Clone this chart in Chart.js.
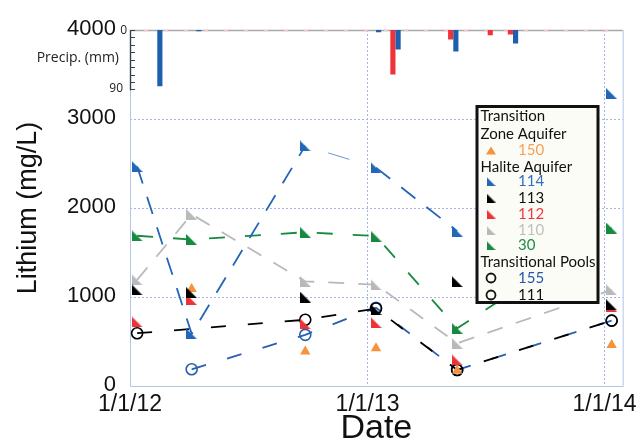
<!DOCTYPE html>
<html>
<head>
<meta charset="utf-8">
<script src="https://cdn.jsdelivr.net/npm/chart.js@4.4.1/dist/chart.umd.min.js"></script>
<style>
  html, body { margin: 0; padding: 0; background: #fff; }
  #wrap { position: relative; width: 642px; height: 446px; }
</style>
</head>
<body>
<div id="wrap"><canvas id="chart" width="642" height="446"></canvas></div>
<script>
// sampling dates (lithium)
const sampleDates = ['2012-01-12', '2012-04-05', '2012-09-27', '2013-01-14', '2013-05-19', '2014-01-12'];
// Transition Zone Aquifer
const li150 = [null, 1090, 387, 425, 170, 461];
// Halite Aquifer
const li114 = [2467, 586, 2698, 2454, 1740, 3285];
const li113 = [1080, 1048, 1000, 860, 1174, 911];
const li112 = [720, 970, 700, 714, 293, 895];
const li110 = [1193, 1928, 1176, 1139, 480, 1080];
const li30  = [1688, 1646, 1728, 1684, 649, 1774];
// Transitional Pools
const li155 = [null, 188, 575, 880, 180, 735];
const li111 = [593, null, 744, 870, 180, 735];

// precipitation (mm)
const precipBlueDates = ['2012-02-16', '2012-04-16', '2013-01-18', '2013-02-17', '2013-05-17', '2013-08-17'];
const precipBlue = [85, 1.5, 3, 29, 32, 20];
const precipRedDates = ['2013-02-09', '2013-05-09', '2013-07-09', '2013-08-09'];
const precipRed = [67, 14, 7.6, 6.5];

const xTickDates = ['2012-01-01', '2013-01-01', '2014-01-01'];
const yTicks = [0, 1000, 2000, 3000, 4000];
const precipLabels = [0, 90];
const precipMinor = [0, 11.25, 22.5, 33.75, 45, 56.25, 67.5, 78.75, 90];

const X = s => Date.parse(s + 'T00:00:00Z');
const pts = vals => sampleDates.map((d, i) => ({ x: X(d), y: vals[i] }));

const C = {
  c150: '#f7923a', c114: '#2166b8', c113: '#000000', c112: '#ee3338',
  c110: '#b7b9bb', c30: '#168a3e', c155: '#2a5fb0', c111: '#000000'
};

// right-angle triangle marker
function triMarker(color, size) {
  const c = document.createElement('canvas');
  c.width = size; c.height = size;
  const g = c.getContext('2d');
  g.fillStyle = color;
  g.beginPath();
  g.moveTo(0, 0); g.lineTo(0, size); g.lineTo(size, size);
  g.closePath(); g.fill();
  return c;
}

function lineSet(label, vals, color, marker, dash, order, extra) {
  return Object.assign({
    label, data: pts(vals), borderColor: color, backgroundColor: color,
    borderWidth: dash ? 1.8 : 0, borderDash: dash || [], showLine: !!dash,
    pointStyle: marker, pointRadius: 6, order
  }, extra || {});
}

const frame = {
  id: 'frame',
  beforeDatasetsDraw(chart) {
    const { ctx, chartArea: a, scales } = chart;
    const yp = scales.yP;
    const top0 = yp.getPixelForValue(0), p90 = yp.getPixelForValue(90);
    ctx.save();
    ctx.lineWidth = 1;
    ctx.strokeStyle = '#b4c6e8';
    ctx.beginPath();
    ctx.moveTo(a.left + 0.5, p90);
    ctx.lineTo(a.left + 0.5, a.bottom + 0.5);
    ctx.lineTo(a.right + 0.5, a.bottom + 0.5);
    ctx.lineTo(a.right + 0.5, top0);
    ctx.stroke();
    // zero line of precipitation
    ctx.strokeStyle = '#a8a8a8';
    ctx.lineWidth = 1.5;
    ctx.beginPath(); ctx.moveTo(a.left, top0 + 0.5); ctx.lineTo(a.right, top0 + 0.5); ctx.stroke();
    ctx.strokeStyle = '#f6c4cc';
    ctx.setLineDash([4, 16]);
    ctx.beginPath(); ctx.moveTo(a.left + 14, top0 + 0.5); ctx.lineTo(a.right, top0 + 0.5); ctx.stroke();
    ctx.setLineDash([]);
    // precipitation axis
    ctx.strokeStyle = '#34414f';
    ctx.lineWidth = 1.4;
    ctx.beginPath(); ctx.moveTo(a.left + 0.5, top0); ctx.lineTo(a.left + 0.5, p90 + 1); ctx.stroke();
    ctx.lineWidth = 1;
    precipMinor.forEach(v => {
      const y = Math.round(yp.getPixelForValue(v)) + 0.5;
      ctx.beginPath(); ctx.moveTo(a.left, y); ctx.lineTo(a.left + 5, y); ctx.stroke();
    });
    ctx.fillStyle = '#222';
    ctx.font = '12px "Open Sans"';
    ctx.textAlign = 'right';
    ctx.textBaseline = 'middle';
    ctx.fillText(String(precipLabels[0]), a.left - 3, yp.getPixelForValue(precipLabels[0]) + 1);
    ctx.fillText(String(precipLabels[1]), a.left - 7, yp.getPixelForValue(precipLabels[1]) - 1);
    ctx.font = '14px "Open Sans"';
    ctx.fillText('Precip. (mm)', a.left - 11, yp.getPixelForValue(43));
    ctx.restore();
  },
  afterDraw(chart) {
    const ctx = chart.ctx;
    const L = { x: 475.5, y: 105, w: 124, h: 199 };
    ctx.save();
    ctx.fillStyle = '#fcfcf6';
    ctx.fillRect(L.x, L.y, L.w, L.h);
    ctx.lineWidth = 3;
    ctx.strokeStyle = '#111';
    ctx.strokeRect(L.x + 1.5, L.y + 1.5, L.w - 3, L.h - 3);
    ctx.font = '15px Lato';
    ctx.textBaseline = 'middle';
    ctx.textAlign = 'left';
    const tx = 480.5, mx = 491, nx = 518;
    const heads = [['Transition', 116], ['Zone Aquifer', 134], ['Halite Aquifer', 167.5], ['Transitional Pools', 262]];
    ctx.fillStyle = '#111';
    heads.forEach(h => ctx.fillText(h[0], tx, h[1]));
    // orange triangle
    ctx.fillStyle = C.c150;
    ctx.beginPath(); ctx.moveTo(mx, 146.5); ctx.lineTo(mx + 5, 154.5); ctx.lineTo(mx - 5, 154.5); ctx.closePath(); ctx.fill();
    ctx.fillStyle = '#f5a05a'; ctx.fillText('150', nx, 150.5);
    const tris = [['114', C.c114, '#2f6fc0', 181.5], ['113', C.c113, '#111', 198], ['112', C.c112, '#ee3a3f', 214],
                  ['110', C.c110, '#c0c0c0', 230.5], ['30', C.c30, '#1e8f45', 245.5]];
    tris.forEach(t => {
      ctx.drawImage(triMarker(t[1], 9), mx - 4.5, t[3] - 4.5);
      ctx.fillStyle = t[2]; ctx.fillText(t[0], nx, t[3]);
    });
    const circ = [['155', '#2457a8', 278], ['111', '#111', 295]];
    circ.forEach(c => {
      ctx.strokeStyle = '#111'; ctx.lineWidth = 1.8;
      ctx.beginPath(); ctx.arc(mx, c[2], 4.5, 0, Math.PI * 2); ctx.stroke();
      ctx.fillStyle = c[1]; ctx.fillText(c[0], nx, c[2]);
    });
    ctx.restore();
  }
};

const gridColor = '#a3b6dc';

const datasets = [
  lineSet('113', li113, C.c113, triMarker(C.c113, 11), null, 1),
  lineSet('150', li150, C.c150, 'triangle', null, 2, { pointRadius: 6 }),
  lineSet('112', li112, C.c112, triMarker(C.c112, 11), null, 3),
  lineSet('114', li114, C.c114, triMarker(C.c114, 11), [18, 14], 4, {
    segment: {
      borderColor: c => c.p0DataIndex === 4 ? 'transparent' : (c.p0DataIndex === 2 ? '#6a98d4' : undefined),
      borderWidth: c => c.p0DataIndex === 2 ? 1 : undefined,
      borderDash: c => c.p0DataIndex === 2 ? [22, 60] : undefined,
      borderDashOffset: c => c.p0DataIndex === 2 ? 58 : undefined
    }
  }),
  lineSet('30', li30, C.c30, triMarker(C.c30, 11), [16, 20], 5),
  lineSet('110', li110, C.c110, triMarker(C.c110, 11), [16, 14], 6),
  lineSet('111', li111, C.c111, 'circle', [15, 22], 7, { backgroundColor: 'transparent', pointBorderWidth: 1.6, pointRadius: 5.5, spanGaps: true }),
  lineSet('155', li155, C.c155, 'circle', [15, 22], 8, { backgroundColor: 'transparent', pointBorderWidth: 1.6, pointRadius: 5.5 }),
  { type: 'bar', label: 'precip blue', yAxisID: 'yP', order: 10, grouped: false, barThickness: 4.5,
    data: precipBlueDates.map((d, i) => ({ x: X(d), y: precipBlue[i] })), backgroundColor: '#1f5fae' },
  { type: 'bar', label: 'precip red', yAxisID: 'yP', order: 10, grouped: false, barThickness: 4.5,
    data: precipRedDates.map((d, i) => ({ x: X(d), y: precipRed[i] })), backgroundColor: '#ef3338' }
];

new Chart(document.getElementById('chart'), {
  type: 'line',
  data: { datasets },
  plugins: [frame],
  options: {
    responsive: false,
    animation: false,
    layout: { padding: { top: 30, right: 14, left: 0, bottom: 0 } },
    plugins: { legend: { display: false }, tooltip: { enabled: false } },
    scales: {
      x: {
        type: 'linear', min: X('2012-01-01'), max: X('2014-01-29'), offset: false,
        afterBuildTicks: s => { s.ticks = xTickDates.map(d => ({ value: X(d) })); },
        afterFit: s => { s.height = 60; },
        ticks: {
          autoSkip: false, maxRotation: 0, padding: 5, color: '#111',
          font: { family: '"Liberation Sans", Arial', size: 23 },
          callback: v => { const d = new Date(v); return (d.getUTCMonth() + 1) + '/' + d.getUTCDate() + '/' + String(d.getUTCFullYear()).slice(2); }
        },
        grid: { offset: false, color: c => (c.tick && c.tick.value === X('2012-01-01')) ? 'transparent' : gridColor, drawTicks: false, lineWidth: 1 },
        border: { display: false, dash: [2, 2] },
        title: { display: true, text: 'Date', color: '#111', font: { family: '"Liberation Sans", Arial', size: 34, lineHeight: 1 }, padding: { top: 0, bottom: 0 } }
      },
      y: {
        min: 0, max: 4000,
        afterBuildTicks: s => { s.ticks = yTicks.map(v => ({ value: v })); },
        afterFit: s => { s.width = 130; },
        ticks: { padding: 14, labelOffset: -1.5, color: '#111', font: { family: '"Liberation Sans", Arial', size: 22 }, callback: v => String(v) },
        grid: { color: c => (c.tick && c.tick.value > 0 && c.tick.value < 4000) ? gridColor : 'transparent', drawTicks: false, lineWidth: 1 },
        border: { display: false, dash: [2, 2] },
        title: { display: true, text: 'Lithium (mg/L)', color: '#111', font: { family: '"Liberation Sans", Arial', size: 27 }, padding: { top: 12, bottom: 0 } }
      },
      yP: { display: false, reverse: true, min: 0, max: 540 }
    }
  }
});
</script>
</body>
</html>
